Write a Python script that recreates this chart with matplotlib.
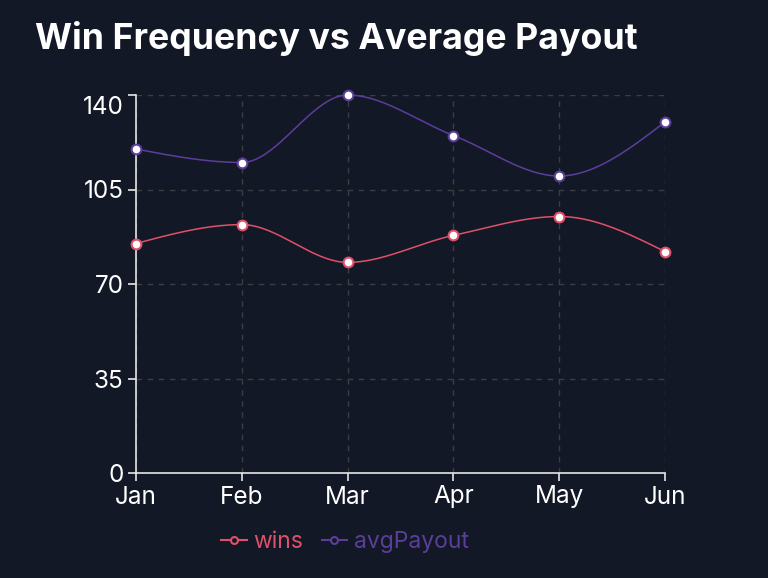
import numpy as np
import matplotlib
matplotlib.use("Agg")
import matplotlib.pyplot as plt
import matplotlib.transforms as mtransforms
from matplotlib.lines import Line2D

months = ["Jan", "Feb", "Mar", "Apr", "May", "Jun"]
wins = [85, 92, 78, 88, 95, 82]
avg_payout = [120, 115, 140, 125, 110, 130]
y_ticks = [0, 35, 70, 105, 140]

BG = "#131826"
WIN_C = "#e0506a"
PAY_C = "#5b3e9a"
plt.rcParams["font.family"] = ["Inter", "DejaVu Sans"]


def monotone(x, y, n=40):
    x = np.asarray(x, float); y = np.asarray(y, float)
    h = np.diff(x); d = np.diff(y) / h
    m = np.zeros_like(y)
    for i in range(1, len(y) - 1):
        if d[i - 1] * d[i] > 0:
            p = (d[i - 1] * h[i] + d[i] * h[i - 1]) / (h[i - 1] + h[i])
            m[i] = (np.sign(d[i - 1]) + np.sign(d[i])) * min(abs(d[i - 1]), abs(d[i]), 0.5 * abs(p))
        else:
            m[i] = 0
    m[0] = (3 * d[0] - m[1]) / 2 if len(y) > 2 else d[0]
    m[-1] = (3 * d[-1] - m[-2]) / 2 if len(y) > 2 else d[-1]
    xs, ys = [], []
    for i in range(len(h)):
        t = np.linspace(0, 1, n)
        h00 = 2 * t**3 - 3 * t**2 + 1; h10 = t**3 - 2 * t**2 + t
        h01 = -2 * t**3 + 3 * t**2; h11 = t**3 - t**2
        xs.append(x[i] + t * h[i])
        ys.append(h00 * y[i] + h10 * h[i] * m[i] + h01 * y[i + 1] + h11 * h[i] * m[i + 1])
    return np.concatenate(xs), np.concatenate(ys)


fig = plt.figure(figsize=(7.68, 5.78), dpi=100, facecolor=BG)
ax = fig.add_axes([136 / 768, 1 - 473 / 578, (665 - 136) / 768, (473 - 95) / 578])
ax.set_facecolor(BG)

x = np.arange(len(months))
for vals, c in [(wins, WIN_C), (avg_payout, PAY_C)]:
    sx, sy = monotone(x, vals)
    ax.plot(sx, sy, color=c, lw=1.1, zorder=3, clip_on=False)
    ax.plot(x, vals, 'o', ms=7, mfc="white", mec=c, mew=1.5, zorder=4, clip_on=False)

ax.set_xlim(0, len(months) - 1)
ax.set_ylim(0, 140)
ax.set_xticks(x)
ax.set_xticklabels(months)
ax.set_yticks(y_ticks)
ax.grid(True, color="#3b3d42", ls=(0, (4, 4)), lw=1)
ax.set_axisbelow(True)
for s in ["top", "right"]:
    ax.spines[s].set_visible(False)
for s in ["left", "bottom"]:
    ax.spines[s].set_color("#e6e6e6")
    ax.spines[s].set_linewidth(1.2)
ax.tick_params(colors="#e6e6e6", labelcolor="white", labelsize=17.5, length=6, width=1.2, pad=3)

# top y label sits a little lower in the reference
fig.canvas.draw()
top_lab = ax.get_yticklabels()[-1]
top_lab.set_transform(top_lab.get_transform() +
                      mtransforms.ScaledTranslation(0, -10 / 100, fig.dpi_scale_trans))

fig.text(35 / 768, 1 - 38 / 578, "Win Frequency vs Average Payout", color="white",
         fontsize=25.7, fontweight="bold", va="center", ha="left")

handles = [Line2D([], [], color=WIN_C, marker='o', ms=5, mfc=BG, mec=WIN_C, mew=1.5, lw=1.5),
           Line2D([], [], color=PAY_C, marker='o', ms=5, mfc=BG, mec=PAY_C, mew=1.5, lw=1.5)]
leg = fig.legend(handles, ["wins", "avgPayout"], loc="center", bbox_to_anchor=(345 / 768, 1 - 542 / 578),
                 ncol=2, frameon=False, fontsize=16.5, handlelength=1.1, handletextpad=0.3, columnspacing=0.8)
for t, c in zip(leg.get_texts(), [WIN_C, PAY_C]):
    t.set_color(c)

fig.savefig("out.png", dpi=100, facecolor=BG)
